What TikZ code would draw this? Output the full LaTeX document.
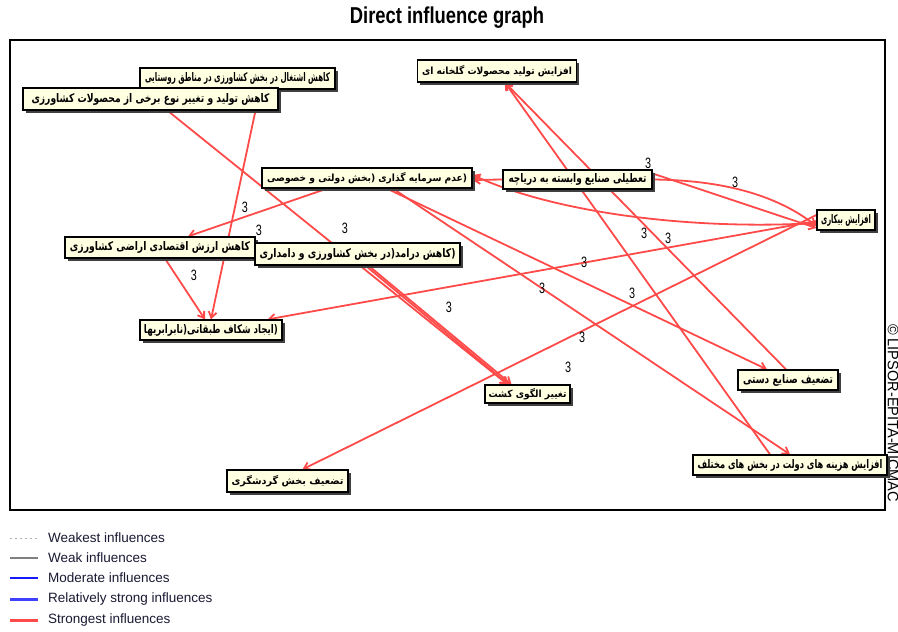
\documentclass[tikz,border=0pt]{standalone}
\usepackage{fontspec}
\setmainfont{Liberation Sans}
\newfontfamily\fa[Script=Arabic]{DejaVu Sans Bold}
\TeXXeTstate=1
\usetikzlibrary{shadows,arrows.meta,calc}
\pgfdeclarelayer{bg}
\pgfsetlayers{bg,main}
\definecolor{boxfill}{HTML}{FFFFE2}
\definecolor{infred}{HTML}{FF4A4A}
\definecolor{legtext}{HTML}{1A1A33}
\tikzset{
  fbox/.style={draw=black, line width=1.2pt, fill=boxfill, inner sep=0pt,
    minimum height=20pt, anchor=center,
    drop shadow={shadow xshift=2.5pt, shadow yshift=-2.5pt, fill=black!75, opacity=1}},
  infl/.style={draw=infred, line width=1.8pt, -{Straight Barb[length=6pt,width=8pt]}},
  num/.style={font=\fontsize{15}{15}\selectfont, inner sep=0pt},
  legtxt/.style={font=\fontsize{13.5}{13.5}\selectfont, text=legtext, anchor=west, inner sep=0pt}
}
\newcommand{\three}{\scalebox{0.72}[1]{3}}
\begin{document}
\begin{tikzpicture}[x=1pt,y=-1pt]
\useasboundingbox (0,0) rectangle (898,632);
\begin{pgfonlayer}{bg}
\fill[white] (0,0) rectangle (898,632);
\end{pgfonlayer}
% title
\node[font=\bfseries\fontsize{23}{23}\selectfont] (title) at (447,18) {\scalebox{0.8}[1]{Direct influence graph}};

% nodes
\node[fbox, minimum width=195pt, minimum height=21pt] (n1) at (237.5,78.5) {\resizebox{185pt}{9pt}{\fa\beginR کاهش اشتغال در بخش کشاورزی در مناطق روستایی\endR}};
\node[fbox, minimum width=255pt, minimum height=22pt] (n2) at (150.5,99) {\resizebox{238pt}{9pt}{\fa\beginR کاهش تولید و تغییر نوع برخی از محصولات کشاورزی\endR}};
\node[fbox, minimum width=159pt, minimum height=22pt] (n3) at (497,71) {\resizebox{150pt}{9pt}{\fa\beginR افزایش تولید محصولات گلخانه ای\endR}};
\node[fbox, minimum width=210pt, minimum height=20pt] (n4) at (367,178) {\resizebox{200pt}{9pt}{\fa\beginR (عدم سرمایه گذاری (بخش دولتی و خصوصی\endR}};
\node[fbox, minimum width=149pt, minimum height=19pt] (n5) at (577.5,179.5) {\resizebox{138pt}{9pt}{\fa\beginR تعطیلی صنایع وابسته به دریاچه\endR}};
\node[fbox, minimum width=58pt, minimum height=20pt] (n6) at (846,220) {\resizebox{50pt}{9pt}{\fa\beginR افزایش بیکاری\endR}};
\node[fbox, minimum width=190pt, minimum height=21pt] (n7) at (160,247.5) {\resizebox{180pt}{9pt}{\fa\beginR کاهش ارزش اقتصادی اراضی کشاورزی\endR}};
\node[fbox, minimum width=205pt, minimum height=22pt] (n8) at (357.5,254) {\resizebox{196pt}{9pt}{\fa\beginR (کاهش درامد(در بخش کشاورزی و دامداری\endR}};
\node[fbox, minimum width=142pt, minimum height=20pt] (n9) at (211,330) {\resizebox{134pt}{9pt}{\fa\beginR (ایجاد شکاف طبقاتی(نابرابریها\endR}};
\node[fbox, minimum width=85pt, minimum height=18pt] (n10) at (527.5,394) {\resizebox{78pt}{9pt}{\fa\beginR تغییر الگوی کشت\endR}};
\node[fbox, minimum width=100pt, minimum height=20pt] (n11) at (788,380) {\resizebox{90pt}{9pt}{\fa\beginR تضعیف صنایع دستی\endR}};
\node[fbox, minimum width=194pt, minimum height=20pt] (n12) at (790,465) {\resizebox{185pt}{9pt}{\fa\beginR افزایش هزینه های دولت در بخش های مختلف\endR}};
\node[fbox, minimum width=121pt, minimum height=22pt] (n13) at (287.5,481) {\resizebox{112pt}{9pt}{\fa\beginR تضعیف بخش گردشگری\endR}};

\begin{pgfonlayer}{bg}
% frame
\draw[line width=1.2pt] (10,40) rectangle (885,510);
\node[rotate=-90, font=\fontsize{15}{15}\selectfont, inner sep=0pt] (copy) at (893,413) {\scalebox{0.97}[1]{\copyright{} LIPSOR-EPITA-MICMAC}};
% edges
\draw[infl] ([xshift=105pt]n2.south) -- ([xshift=0pt]n9.north);
\draw[infl] ([xshift=-40pt]n4.south) -- ([xshift=28pt]n7.north);
\draw[infl] ([xshift=17pt]n2.south) -- ([xshift=-20pt]n10.north);
\draw[infl] ([xshift=5pt]n7.south) -- ([xshift=-6pt]n9.north);
\draw[infl] ([xshift=8pt]n8.south) -- ([xshift=-19pt]n10.north);
\draw[infl] ([xshift=11pt]n8.south) -- ([xshift=-16pt]n10.north);
\draw[infl] ([xshift=26pt]n4.south) -- ([xshift=0pt]n12.north);
\draw[infl] ([xshift=20pt]n4.south) -- ([xshift=-21pt]n11.north);
\draw[infl] (n5.west) -- ([yshift=-2pt]n4.east);
\draw[infl] ([yshift=-3pt]n6.west) .. controls (700,230) and (560,215) .. ([yshift=3pt]n4.east);
\draw[infl] ([yshift=0pt]n5.east) .. controls (710,180) and (770,190) .. ([yshift=-6pt]n6.west);
\draw[infl] ([yshift=6pt]n5.east) -- ([yshift=-8pt]n6.west);
\draw[infl] ([xshift=-20pt]n12.north) -- ([xshift=8pt]n3.south);
\draw[infl] ([xshift=-2pt]n11.north) -- ([xshift=8pt]n3.south);
\draw[infl] ([yshift=-1pt]n6.west) -- ([xshift=-15pt]n9.north east);
\draw[infl] ([yshift=5pt]n6.west) -- ([xshift=15pt]n13.north);
\end{pgfonlayer}

% labels
\node[num] (l1) at (245,207) {\three};
\node[num] (l2) at (259,230) {\three};
\node[num] (l3) at (345,228) {\three};
\node[num] (l4) at (194,275) {\three};
\node[num] (l5) at (449,307) {\three};
\node[num] (l6) at (542,288) {\three};
\node[num] (l7) at (632,293) {\three};
\node[num] (l8) at (648,163) {\three};
\node[num] (l9) at (735,182) {\three};
\node[num] (l10) at (644,233) {\three};
\node[num] (l11) at (668,238) {\three};
\node[num] (l12) at (584,262) {\three};
\node[num] (l13) at (582,337) {\three};
\node[num] (l14) at (568,367) {\three};

% legend
\draw[line width=1pt, gray!60, dash pattern=on 2pt off 3pt] (10,538) -- (38,538);
\node[legtxt] (t1) at (48,538) {Weakest influences};
\draw[line width=1.5pt, gray] (10,558) -- (38,558);
\node[legtxt] (t2) at (48,558) {Weak influences};
\draw[line width=1.5pt, blue!90] (10,578) -- (38,578);
\node[legtxt] (t3) at (48,578) {Moderate influences};
\draw[line width=3pt, blue!75] (10,599) -- (38,599);
\node[legtxt] (t4) at (48,599) {Relatively strong influences};
\draw[line width=3pt, infred] (10,620) -- (38,620);
\node[legtxt] (t5) at (48,620) {Strongest influences};
\end{tikzpicture}
\end{document}
